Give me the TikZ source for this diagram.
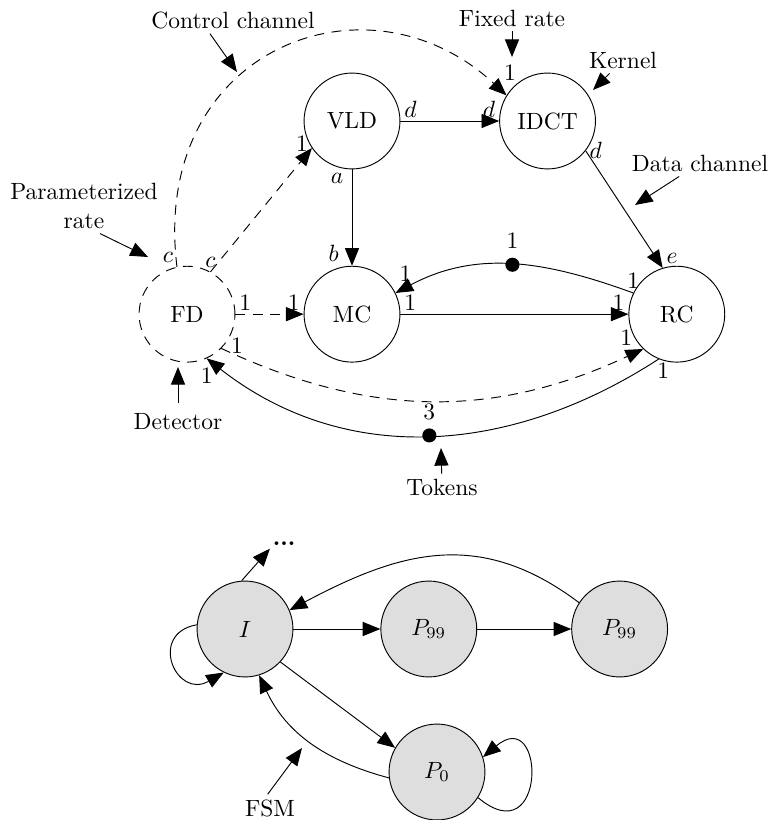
\documentclass[tikz,border=0pt]{standalone}
\usetikzlibrary{arrows.meta, positioning}

\begin{document}
\begin{tikzpicture}[
    x=0.4255pt, y=0.4255pt,
    node distance=41pt,
    actor/.style={circle, draw, minimum size=40.8pt, inner sep=0pt},
    fsmstate/.style={actor, fill=black!13},
    ctrl/.style={dash pattern=on 4.2pt off 3.2pt},
    arrow/.style={-{Triangle[length=7.5pt, width=6pt]}},
    note/.style={inner sep=2pt},
    wt/.style={inner sep=1.5pt},
    token/.style={circle, fill, inner sep=0pt, minimum size=6pt}
]
    \useasboundingbox (0,0) rectangle (774,-820);

    \node[actor] (vld) at (352,-121) {VLD};
    \node[actor, right=42pt of vld] (idct) {IDCT};
    \node[actor, below=of vld] (mc) {MC};
    \node[actor, ctrl, left=29pt of mc] (fd) {FD};
    \node[actor, right=97pt of mc] (rc) {RC};

    \node[note] (ctrltxt) at (233,-20) {Control channel};
    \node[note] (fixtxt) at (512,-18) {Fixed rate};
    \node[note] (kertxt) at (623,-60) {Kernel};
    \node[note] (datatxt) at (700,-163) {Data channel};
    \node[note, align=center] (partxt) at (84,-206) {Parameterized\\rate};
    \node[note] (dettxt) at (178,-422) {Detector};
    \node[note] (toktxt) at (442,-487) {Tokens};
    \coordinate (ctrlpt) at (237,-72);
    \coordinate (fixpt) at (512,-57);
    \coordinate (kerpt) at (593,-90);
    \coordinate (datapt) at (635,-205);
    \coordinate (parpt) at (148,-257);
    \coordinate (detpt) at (178,-367);
    \coordinate (tokpt) at (441,-448);

    \draw[arrow] (vld) -- node[wt, at start, above right] {$d$} node[wt, at end, above left] {$d$} (idct);
    \draw[arrow] (vld) -- node[wt, at start, below left, xshift=-2pt] {$a$} node[wt, at end, above left, xshift=-4pt] {$b$} (mc);
    \draw[arrow] (idct.-38) -- node[wt, at start, right] {$d$} node[wt, at end, above right] {$e$} (rc.107);
    \draw[arrow, ctrl] (fd.61) -- node[wt, at start, above] {$c$} node[wt, at end, left, yshift=2pt] {1} (vld.214);
    \draw[arrow, ctrl] (fd.102) to[out=97, in=137, out distance=93.6pt, in distance=80.8pt] node[wt, at start, above left] {$c$} node[wt, at end, above, xshift=1.5pt, yshift=4.5pt] {1} (idct.148);
    \draw[arrow, ctrl] (fd) -- node[wt, at start, above right] {1} node[wt, at end, above left] {1} (mc);
    \draw[arrow, ctrl] (fd.-45) to[out=-25, in=-155] node[wt, at start, right, xshift=2.5pt, yshift=1pt] {1} node[wt, at end, above left, xshift=-3pt] {1} (rc.-134);
    \draw[arrow] (mc) -- node[wt, at start, above right] {1} node[wt, at end, above left] {1} (rc);
    \draw[arrow] (rc.154) to[out=160, in=28] node[token, midway, label=above:1] (tok1) {} node[wt, at start, above] {1} node[wt, at end, above right, yshift=3pt] {1} (mc.26);
    \draw[arrow] (rc.248) to[out=213, in=-38] node[token, midway, label=above:3] (tok3) {} node[wt, at start, below, xshift=2pt] {1} node[wt, at end, below, yshift=-2.5pt] {1} (fd.-66);

    \draw[arrow] ([xshift=-9.8pt]ctrltxt.south) -- (ctrlpt);
    \draw[arrow] (fixtxt) -- (fixpt);
    \draw[arrow] (kertxt) -- (kerpt);
    \draw[arrow] (datatxt) -- (datapt);
    \draw[arrow] ([xshift=6.8pt]partxt.south) -- (parpt);
    \draw[arrow] ([yshift=2.5pt]dettxt.north) -- (detpt);
    \draw[arrow] (toktxt) -- (tokpt);

    \node[fsmstate] (sI) at (245,-629) {$I$};
    \node[fsmstate, right=37pt of sI] (sPa) {$P_{99}$};
    \node[fsmstate, right=40pt of sPa] (sPb) {$P_{99}$};
    \node[fsmstate] (sP0) at (437,-772) {$P_0$};
    \node[inner sep=1pt] (more) at (284,-544) {\textbf{...}};
    \node[note] (fsmtxt) at (270,-808) {FSM};
    \coordinate (fsmpt) at (302,-748);

    \draw[arrow] (sI.175) to[out=190, in=210, out distance=21.3pt, in distance=23.4pt] (sI.244);
    \draw[arrow] (sI.94) -- (more.south west);
    \draw[arrow] (sI) -- (sPa);
    \draw[arrow] (sPa) -- (sPb);
    \draw[arrow] (sPb.147) to[out=143, in=28, looseness=1.1] (sI.23);
    \draw[arrow] (sI.-43) -- (sP0.150);
    \draw[arrow] (sP0.187) to[out=165, in=-65] (sI.-73);
    \draw[arrow] (sP0.-32) to[out=-40, in=40, out distance=38.3pt, in distance=35pt] (sP0.18);
    \draw[arrow] ([xshift=-1pt]fsmtxt.north) -- (fsmpt);
\end{tikzpicture}
\end{document}
